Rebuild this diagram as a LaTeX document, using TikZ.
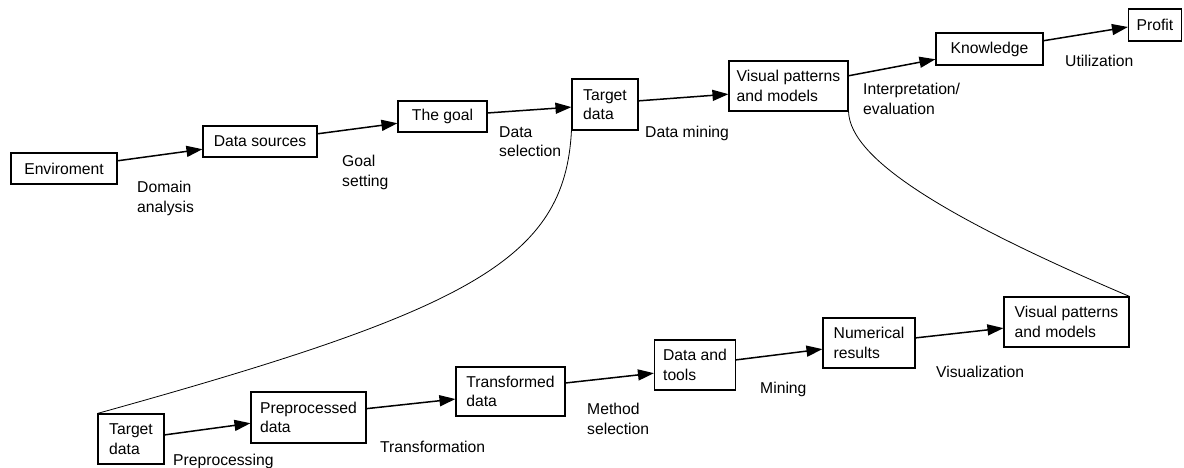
\documentclass[tikz,border=0pt]{standalone}
\usepackage{fontspec}
\setmainfont{Liberation Sans}
\usetikzlibrary{arrows.meta,calc}

\begin{document}
\begin{tikzpicture}[x=1pt,y=-1pt,
  txt/.style={font=\fontsize{15.7}{19.5}\selectfont},
  box/.style={txt, draw, line width=1.1pt, inner sep=0pt, align=left},
  lbl/.style={txt, inner sep=0pt, anchor=north west, align=left},
  flow/.style={line width=1.5pt, -{Triangle[length=16pt,width=11pt]}},
  link/.style={line width=0.8pt}]
\useasboundingbox (0,0) rectangle (1184,468);

% upper process chain
\node[box, minimum width=106pt, minimum height=31pt] (env)    at (64,168.5)   {Enviroment};
\node[box, minimum width=114pt, minimum height=31pt] (ds)     at (260,141.5)  {Data sources};
\node[box, minimum width=89pt,  minimum height=31pt] (goal)   at (442.5,116.5){The goal};
\node[box, minimum width=66pt,  minimum height=51pt] (tgt)    at (605,104.5)  {Target\\data};
\node[box, minimum width=119pt, minimum height=50pt] (vis)    at (788.5,86)   {Visual patterns\\and models};
\node[box, minimum width=107pt, minimum height=32pt] (know)   at (989.5,49)   {Knowledge};
\node[box, minimum width=53pt,  minimum height=32pt] (profit) at (1155,25)    {Profit};

% lower (data mining) chain
\node[box, minimum width=66pt,  minimum height=50pt] (tgt2)  at (131,439)    {Target\\data};
\node[box, minimum width=115pt, minimum height=51pt] (pre)   at (308.5,417.5){Preprocessed\\data};
\node[box, minimum width=109pt, minimum height=49pt] (trans) at (510.5,391.5){Transformed\\data};
\node[box, minimum width=81pt,  minimum height=50pt] (dt)    at (695,365)    {Data and\\tools};
\node[box, minimum width=92pt,  minimum height=50pt] (num)   at (869,343)    {Numerical\\results};
\node[box, minimum width=125pt, minimum height=50pt] (vis2)  at (1066.5,322) {Visual patterns\\and models};

% arrows of the upper chain
\draw[flow] ($(env.north east)!0.26!(env.south east)$)   -- ($(ds.north west)!0.74!(ds.south west)$);
\draw[flow] ($(ds.north east)!0.26!(ds.south east)$)     -- ($(goal.north west)!0.71!(goal.south west)$);
\draw[flow] ($(goal.north east)!0.39!(goal.south east)$) -- ($(tgt.north west)!0.55!(tgt.south west)$);
\draw[flow] ($(tgt.north east)!0.43!(tgt.south east)$)   -- ($(vis.north west)!0.66!(vis.south west)$);
\draw[flow] ($(vis.north east)!0.30!(vis.south east)$)   -- ($(know.north west)!0.81!(know.south west)$);
\draw[flow] ($(know.north east)!0.25!(know.south east)$) -- ($(profit.north west)!0.56!(profit.south west)$);

% arrows of the lower chain
\draw[flow] ($(tgt2.north east)!0.42!(tgt2.south east)$)   -- ($(pre.north west)!0.61!(pre.south west)$);
\draw[flow] ($(pre.north east)!0.33!(pre.south east)$)     -- ($(trans.north west)!0.65!(trans.south west)$);
\draw[flow] ($(trans.north east)!0.33!(trans.south east)$) -- ($(dt.north west)!0.66!(dt.south west)$);
\draw[flow] ($(dt.north east)!0.40!(dt.south east)$)       -- ($(num.north west)!0.62!(num.south west)$);
\draw[flow] ($(num.north east)!0.40!(num.south east)$)     -- ($(vis2.north west)!0.62!(vis2.south west)$);

% expansion of the data mining step
\draw[link] (tgt.south west) .. controls (565,260) and (470,310) .. (tgt2.north west);
\draw[link] (vis.south east) .. controls (850,160) and (950,220) .. (vis2.north east);

% step labels
\node[lbl] (l1)  at (137,181.3)  {Domain\\analysis};
\node[lbl] (l2)  at (342,155.3)  {Goal\\setting};
\node[lbl] (l3)  at (499,126.3)  {Data\\selection};
\node[lbl] (l4)  at (645,126.3)  {Data mining};
\node[lbl] (l5)  at (863,83.3)   {Interpretation/\\evaluation};
\node[lbl] (l6)  at (1065,55.3)  {Utilization};
\node[lbl] (l7)  at (173,454.3)  {Preprocessing};
\node[lbl] (l8)  at (380,441.3)  {Transformation};
\node[lbl] (l9)  at (587,403.3)  {Method\\selection};
\node[lbl] (l10) at (760,382.3)  {Mining};
\node[lbl] (l11) at (936,366.3)  {Visualization};
\end{tikzpicture}
\end{document}
